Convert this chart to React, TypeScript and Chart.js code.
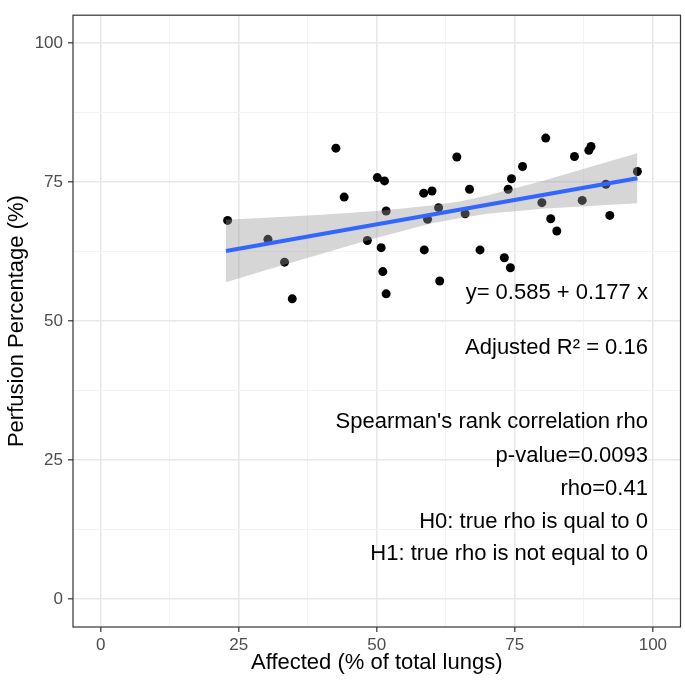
import React, { useEffect, useRef } from "react";
import { Chart, registerables } from "chart.js";

Chart.register(...registerables);

// ---- Data ----
const affected = [
  23.0, 30.3, 33.3, 34.7, 42.6, 44.1, 48.3, 50.1, 50.8, 51.1,
  51.4, 51.7, 51.7, 58.5, 58.6, 59.2, 60.0, 61.2, 61.4, 64.5,
  66.0, 66.8, 68.7, 73.1, 73.8, 74.2, 74.4, 76.4, 79.9, 80.6,
  81.5, 82.6, 85.8, 87.2, 88.4, 88.8, 91.5, 92.2, 97.2,
];
const perfusion = [
  68.1, 64.7, 60.6, 54.0, 81.1, 72.3, 64.5, 75.8, 63.2, 58.9,
  75.2, 69.8, 54.9, 73.0, 62.8, 68.3, 73.4, 70.4, 57.2, 79.5,
  69.3, 73.7, 62.8, 61.4, 73.7, 59.6, 75.6, 77.8, 71.3, 82.9,
  68.4, 66.2, 79.6, 71.7, 80.7, 81.4, 74.6, 69.0, 76.9,
];

// fitted line (endpoints as drawn) and its confidence band
const fitX = [22.7, 97.2];
const fitY = [62.6, 75.7];
const bandX = [22.7, 30, 40, 50, 60, 65, 70, 80, 90, 97.2];
const bandUpper = [68.2, 68.6, 69.1, 69.8, 70.8, 71.5, 72.6, 75.2, 78.1, 80.2];
const bandLower = [57.0, 59.2, 62.1, 65.0, 67.6, 68.5, 69.3, 70.2, 70.8, 71.2];

const majorTicks = [0, 25, 50, 75, 100];
const minorTicks = [12.5, 37.5, 62.5, 87.5];

const xTitle = "Affected (% of total lungs)";
const yTitle = "Perfusion Percentage (%)";

const annotationLines = [
  "y= 0.585 + 0.177 x",
  "Adjusted R\u00B2 = 0.16",
  "Spearman's rank correlation rho",
  "p-value=0.0093",
  "rho=0.41",
  "H0: true rho is qual to 0",
  "H1: true rho is not equal to 0",
];
const annotationAnchorX = 99.1;
const annotationAnchorY = [55.1, 45.2, 31.9, 25.7, 19.8, 13.9, 8.2];

const FAMILY = '"Liberation Sans", Arial, Helvetica, sans-serif';

const isMajor = (v: any) => majorTicks.includes(Number(v));

const panelPlugin = {
  id: "panelDecor",
  afterDatasetsDraw(chart: any) {
    const { ctx, chartArea: a, scales } = chart;
    ctx.save();
    ctx.font = `22px ${FAMILY}`;
    ctx.fillStyle = "#000000";
    ctx.textAlign = "right";
    ctx.textBaseline = "middle";
    const px = scales.x.getPixelForValue(annotationAnchorX);
    annotationLines.forEach((t, i) => {
      ctx.fillText(t, px, scales.y.getPixelForValue(annotationAnchorY[i]));
    });
    ctx.strokeStyle = "#333333";
    ctx.lineWidth = 1.2;
    ctx.strokeRect(a.left, a.top, a.right - a.left, a.bottom - a.top);
    ctx.restore();
  },
};

function axisCommon() {
  return {
    type: "linear" as const,
    min: -5,
    max: 105,
    afterBuildTicks: (s: any) => {
      s.ticks = [...majorTicks, ...minorTicks]
        .sort((p, q) => p - q)
        .map((v) => ({ value: v }));
    },
    ticks: {
      callback: (v: any) => (isMajor(v) ? String(v) : ""),
      color: "#4d4d4d",
      font: { size: 17, family: FAMILY },
      autoSkip: false,
      maxRotation: 0,
      minRotation: 0,
    },
    grid: {
      color: (c: any) => (isMajor(c.tick?.value) ? "#e8e8e8" : "#f3f3f3"),
      lineWidth: (c: any) => (isMajor(c.tick?.value) ? 1.6 : 1),
      tickColor: (c: any) => (isMajor(c.tick?.value) ? "#333333" : "rgba(0,0,0,0)"),
      tickWidth: 1.2,
      tickLength: 5,
      drawTicks: true,
    },
    border: { display: false },
  };
}

export default function App() {
  const ref = useRef<HTMLCanvasElement | null>(null);

  useEffect(() => {
    if (!ref.current) return;
    const xBase = axisCommon();
    const yBase = axisCommon();
    const chart = new Chart(ref.current, {
      type: "scatter",
      data: {
        datasets: [
          {
            type: "scatter",
            data: affected.map((x, i) => ({ x, y: perfusion[i] })),
            backgroundColor: "#000000",
            borderWidth: 0,
            pointRadius: 4.5,
            order: 3,
          } as any,
          {
            type: "line",
            data: bandX.map((x, i) => ({ x, y: bandUpper[i] })),
            fill: "+1",
            backgroundColor: "rgba(153,153,153,0.4)",
            borderWidth: 0,
            borderColor: "rgba(0,0,0,0)",
            pointRadius: 0,
            tension: 0,
            order: 2,
          } as any,
          {
            type: "line",
            data: bandX.map((x, i) => ({ x, y: bandLower[i] })),
            fill: false,
            borderWidth: 0,
            borderColor: "rgba(0,0,0,0)",
            pointRadius: 0,
            tension: 0,
            order: 2,
          } as any,
          {
            type: "line",
            data: fitX.map((x, i) => ({ x, y: fitY[i] })),
            fill: false,
            borderColor: "#3366FF",
            borderWidth: 4,
            pointRadius: 0,
            order: 1,
          } as any,
        ],
      },
      options: {
        responsive: false,
        animation: false,
        devicePixelRatio: 1,
        layout: { padding: { left: 0, right: 4, top: 6, bottom: 0 } },
        plugins: {
          legend: { display: false },
          tooltip: { enabled: false },
        },
        scales: {
          x: {
            ...xBase,
            position: "bottom",
            afterFit: (s: any) => {
              s.height = 58;
            },
            ticks: { ...xBase.ticks, padding: 3 },
            title: {
              display: true,
              text: xTitle,
              color: "#000000",
              font: { size: 22, family: FAMILY },
              padding: { top: 0, bottom: 9 },
            },
          },
          y: {
            ...yBase,
            position: "left",
            afterFit: (s: any) => {
              s.width = 73;
            },
            ticks: { ...yBase.ticks, padding: 5 },
            title: {
              display: true,
              text: yTitle,
              color: "#000000",
              font: { size: 22, family: FAMILY },
              padding: { top: 4, bottom: 0 },
            },
          },
        } as any,
      },
      plugins: [panelPlugin],
    } as any);
    return () => chart.destroy();
  }, []);

  return (
    <div style={{ position: "fixed", left: 0, top: 0, width: 685, height: 685, background: "#ffffff" }}>
      <canvas ref={ref} width={685} height={685} style={{ display: "block" }} />
    </div>
  );
}
